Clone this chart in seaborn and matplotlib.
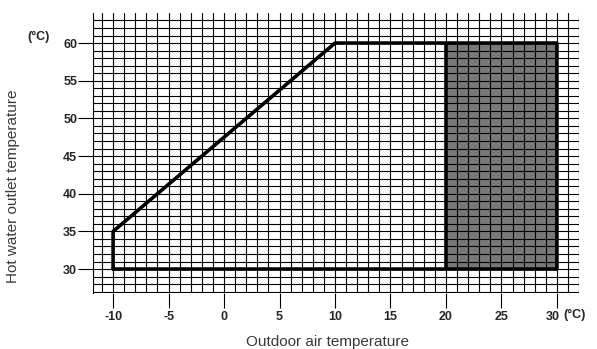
import seaborn as sns
import matplotlib.pyplot as plt
from matplotlib.transforms import ScaledTranslation

# operating envelope (outdoor air temp vs hot water outlet temp)
env_x = [-10, -10, 10, 30, 30, -10]
env_y = [30, 35, 60, 60, 30, 30]
# shaded zone
zone_x = [20, 30]
zone_y = [30, 60]

x_ticks = [-10, -5, 0, 5, 10, 15, 20, 25, 30]
y_ticks = [30, 35, 40, 45, 50, 55, 60]
grid_x = list(range(-11, 33))
grid_y = list(range(27, 64))

sns.set_style("white")
plt.rcParams['font.family'] = ['Liberation Sans', 'DejaVu Sans']

fig = plt.figure(figsize=(5.97, 3.49), dpi=100)
ax = fig.add_axes([0.156, 0.160, 0.814, 0.803])

ax.fill_between(zone_x, zone_y[0], zone_y[1], color="#787878", lw=0, zorder=1)

for gx in grid_x:
    ax.axvline(gx, color="black", lw=0.8, zorder=2)
for gy in grid_y:
    ax.axhline(gy, color="black", lw=0.8, zorder=2)

sns.lineplot(x=env_x, y=env_y, sort=False, estimator=None, color="black",
             lw=2.6, ax=ax, zorder=3)
ax.plot([zone_x[0], zone_x[0]], zone_y, color="black", lw=2.6, zorder=3,
        solid_capstyle="butt")

ax.set_xlim(-11.8, 32)
ax.set_ylim(26.8, 64)
ax.set_xticks(x_ticks)
ax.set_yticks(y_ticks)
ax.set_xticklabels([str(v) for v in x_ticks], fontweight="bold", fontsize=9)
ax.set_yticklabels([str(v) for v in y_ticks], fontweight="bold", fontsize=9)
ax.tick_params(axis="x", direction="out", length=11, width=0.8, color="black",
               pad=2, bottom=True)
ax.tick_params(axis="y", direction="out", length=10.5, width=0.8, color="black",
               pad=1, left=True)

# the last x label sits a bit left to make room for the unit
last = ax.get_xticklabels()[-1]
last.set_transform(last.get_transform() + ScaledTranslation(-0.04, 0, fig.dpi_scale_trans))

for s in ["top", "right", "bottom"]:
    ax.spines[s].set_visible(False)
ax.spines["left"].set_color("black")
ax.spines["left"].set_linewidth(0.8)

fig.text(0.0653, 0.894, "(°C)", ha="center", va="center", fontweight="bold",
         fontsize=9)
fig.text(0.962, 0.0974, "(°C)", ha="center", va="center", fontweight="bold",
         fontsize=9)

fig.text(0.549, 0.02, "Outdoor air temperature", ha="center", va="center",
         fontsize=11, color="#3a3a3a")
fig.text(0.021, 0.467, "Hot water outlet temperature", ha="center", va="center",
         rotation=90, fontsize=11, color="#3a3a3a")

fig.savefig("out.png", dpi=100)
